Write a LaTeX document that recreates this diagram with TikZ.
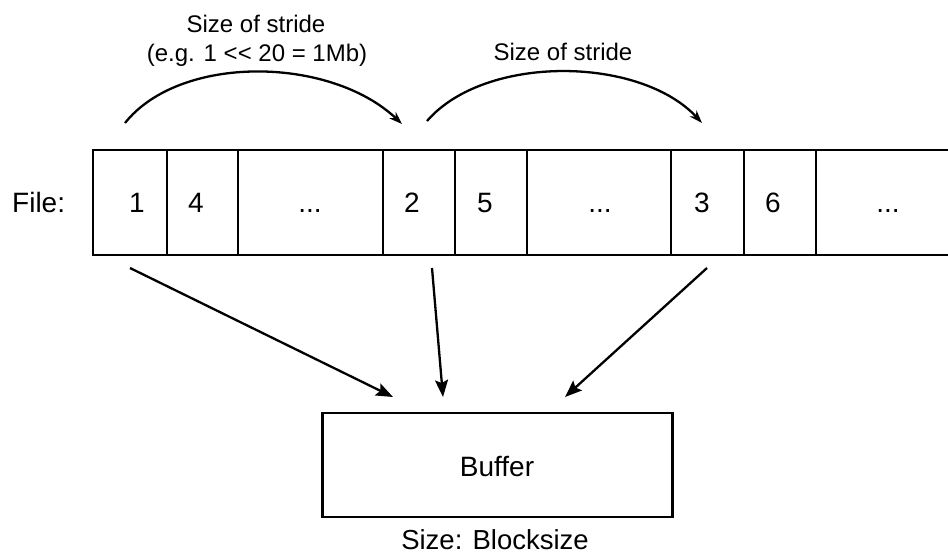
\documentclass[tikz,border=0pt]{standalone}
\usepackage{fontspec}
\setmainfont{Liberation Sans}
\usetikzlibrary{arrows.meta}
\begin{document}
\begin{tikzpicture}[x=1pt,y=-1pt,
  cellbox/.style={draw, line width=2.6pt, minimum height=105pt, inner sep=0pt,
                  anchor=north west, outer sep=0pt},
  celltext/.style={anchor=base, inner sep=0pt, font=\fontsize{28}{32}\selectfont},
  stridetext/.style={anchor=base, inner sep=0pt, font=\fontsize{24}{28}\selectfont},
  hop/.style={line width=2.3pt, -{Stealth[length=13pt,width=9pt]}},
  feed/.style={line width=2.3pt, -{Stealth[length=17pt,width=13pt,inset=3pt]}}]
\useasboundingbox (0,0) rectangle (948,556);

% the file, split into blocks; the last block runs on past the right edge
\node[cellbox, minimum width=74pt]  (c1) at (93,150)  {};
\node[cellbox, minimum width=71pt]  (c4) at (167,150) {};
\node[cellbox, minimum width=145pt] (d1) at (238,150) {};
\node[cellbox, minimum width=72pt]  (c2) at (383,150) {};
\node[cellbox, minimum width=72pt]  (c5) at (455,150) {};
\node[cellbox, minimum width=144pt] (d2) at (527,150) {};
\node[cellbox, minimum width=73pt]  (c3) at (671,150) {};
\node[cellbox, minimum width=72pt]  (c6) at (744,150) {};
\node[cellbox, minimum width=160pt] (d3) at (816,150) {};

% block labels
\node[celltext, anchor=base west] (flab) at (12,213) {File:};
\node[celltext] (t1) at (137,213) {1};
\node[celltext] (t4) at (196,213) {4};
\node[celltext] (td1) at (310,213) {...};
\node[celltext] (t2) at (412,213) {2};
\node[celltext] (t5) at (485,213) {5};
\node[celltext] (td2) at (600,213) {...};
\node[celltext] (t3) at (702,213) {3};
\node[celltext] (t6) at (773,213) {6};
\node[celltext] (td3) at (888,213) {...};

% stride hops above the file
\node[stridetext] (s1a) at (256,33) {Size of stride};
\node[stridetext] (s1b) at (257,62) {(e.g. 1 <{}< 20 = 1Mb)};
\node[stridetext] (s2)  at (563,61) {Size of stride};

\coordinate (a1s) at (125,123);
\coordinate (a1e) at (402,124);
\coordinate (a2s) at (427,121);
\coordinate (a2e) at (702,123);
\draw[hop] (a1s) .. controls (180,54) and (330,56) .. (a1e);
\draw[hop] (a2s) .. controls (485,54) and (640,56) .. (a2e);

% the buffer
\node[draw, line width=2.6pt, minimum width=350pt, minimum height=104pt,
      inner sep=0pt, outer sep=0pt] (buf) at (497.5,465) {};
\node[celltext] (buft) at (497,476) {Buffer};
\node[celltext, font=\fontsize{27.5}{32}\selectfont] (bufs) at (495,549) {Size: Blocksize};

% blocks read into the buffer
\coordinate (b1s) at (130,268);
\coordinate (b1e) at (393,397);
\coordinate (b2s) at (432,268);
\coordinate (b2e) at (443,397);
\coordinate (b3s) at (707,268);
\coordinate (b3e) at (565,397);
\draw[feed] (b1s) -- (b1e);
\draw[feed] (b2s) -- (b2e);
\draw[feed] (b3s) -- (b3e);
\end{tikzpicture}
\end{document}
